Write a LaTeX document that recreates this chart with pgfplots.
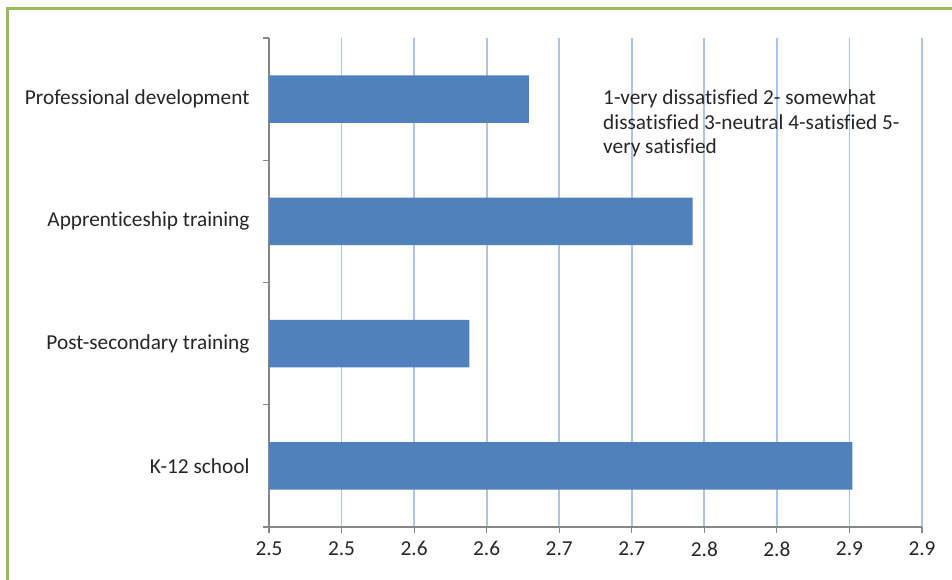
\documentclass[border=0pt]{standalone}
\usepackage{pgfplots}
\pgfplotsset{compat=1.18}
\usepackage{fontspec}
\setmainfont{Carlito}[Ligatures=NoCommon]
\definecolor{barblue}{HTML}{4F81BD}
\definecolor{gridblue}{HTML}{ADC4E8}
\definecolor{framegreen}{HTML}{9BBB59}
\definecolor{axgray}{HTML}{868686}
\definecolor{txt}{HTML}{262626}
\begin{document}
\begin{tikzpicture}[x=1pt,y=1pt]
\useasboundingbox (0,0) rectangle (952,580);
\draw[framegreen, line width=3pt] (7,-5) -- (7,571) -- (965,571);
\begin{axis}[
  at={(269pt,53pt)}, anchor=south west,
  scale only axis, width=653pt, height=489pt,
  xmin=2.5, xmax=2.95, ymin=-0.5, ymax=3.5,
  axis x line*=bottom, axis y line*=left,
  axis line style={axgray, line width=1.2pt},
  xtick={2.5,2.55,2.6,2.65,2.7,2.75,2.8,2.85,2.9,2.95},
  xticklabels={2.5,2.5,2.6,2.6,2.7,2.7,2.8,2.8,2.9,2.9},
  xmajorgrids, major grid style={gridblue, line width=1.8pt},
  ytick={-0.5,0.5,1.5,2.5,3.5},
  yticklabels={},
  extra y ticks={0,1,2,3},
  extra y tick labels={K-12 school,Post-secondary training,Apprenticeship training,Professional development},
  extra y tick style={major tick length=0pt, yticklabel style={xshift=-16pt}},
  tick style={axgray, line width=1.2pt},
  tick align=outside, major tick length=6pt,
  tick label style={font=\fontsize{21.3}{26}\selectfont, text=txt},
  xticklabel style={yshift=-5pt},
  clip=true,
]
\addplot[xbar, bar width=0.39, fill=barblue, draw=none]
  coordinates {(2.902,0) (2.638,1) (2.792,2) (2.679,3)};
\end{axis}
\node[anchor=base west, inner sep=0pt, align=left, text=txt, font=\fontsize{21.3}{24.5}\selectfont]
  at (603,426) {1-very dissatisfied 2- somewhat\\dissatisfied 3-neutral 4-satisfied 5-\\very satisfied};
\end{tikzpicture}
\end{document}
